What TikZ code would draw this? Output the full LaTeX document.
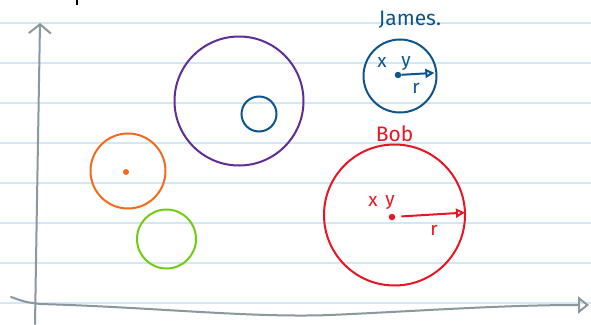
\documentclass[tikz,border=0pt]{standalone}
\usepackage{fontspec}
\setmainfont{Fira Sans}
\usetikzlibrary{positioning,arrows.meta}

\definecolor{linie}{RGB}{210,232,246}
\definecolor{achse}{RGB}{139,152,158}
\definecolor{lila}{RGB}{95,45,148}
\definecolor{blau}{RGB}{14,86,138}
\definecolor{kreisorange}{RGB}{242,107,29}
\definecolor{gruen}{RGB}{114,204,18}
\definecolor{rot}{RGB}{230,22,36}

\begin{document}
\begin{tikzpicture}[
  x = 1pt, y = -1pt,
  kreis/.style = {circle, draw, line width = 2pt, inner sep = 0pt},
  punkt/.style = {circle, fill, inner sep = 0pt, minimum size = 6.5pt},
  schrift/.style = {font = \fontsize{19}{21}\selectfont, inner sep = 0pt, anchor = base},
  titel/.style = {font = \fontsize{21}{23}\selectfont},
  pfeil/.style = {line width = 2pt, -{Triangle[open, length = 9pt, width = 9pt]}}
]
  \useasboundingbox (0,0) rectangle (591,324);
  \fill[white] (0,0) rectangle (591,324);

  % Linien
  \foreach \y in {23,63,...,303}
    \draw[linie, line width = 1.3pt] (0,\y) -- (591,\y);
  \draw[black, line width = 2.5pt] (77,0) -- (77,5);

  % Achsen
  \draw[achse, line width = 2pt, line cap = round,
        -{Straight Barb[length = 9pt, width = 22pt]}]
    (35,324) .. controls (37,200) .. (40,23);
  \draw[achse, line width = 2pt, line cap = round,
        -{Triangle[open, length = 11pt, width = 17pt]}]
    (11,297) .. controls (25,302) .. (40,304)
    .. controls (150,307) and (250,318) .. (330,315)
    .. controls (420,311) and (500,305) .. (589,305);

  % Kreise
  \node[kreis, draw = lila, minimum size = 129pt] (gross) at (239,101) {};
  \node[kreis, draw = blau, minimum size = 35pt]  (klein) at (259,114) {};
  \node[kreis, draw = kreisorange, minimum size = 75pt] (orange) at (128,171) {};
  \node[kreis, draw = gruen, minimum size = 59pt] (gruen) at (166.5,239) {};
  \node[kreis, draw = blau, minimum size = 73pt]  (james) at (400,76) {};
  \node[kreis, draw = rot, minimum size = 141pt]  (bob) at (394.5,215) {};

  % Mittelpunkte
  \node[punkt, kreisorange, minimum size = 6pt] (orangemitte) at (126,172) {};
  \node[punkt, blau] (jamesmitte) at (398,75) {};
  \node[punkt, rot]  (bobmitte) at (392,217) {};

  % Radien
  \draw[pfeil, blau, shorten > = 3pt] (jamesmitte) -- (james.5);
  \draw[pfeil, rot, shorten < = 6pt, shorten > = 1pt] (bobmitte) -- (bob.2);

  % Beschriftung
  \node[titel, text = blau] (jamesname) at (410,20) {James.};
  \node[titel, text = rot] (bobname) [above = -2pt of bob] {Bob};
  \node[schrift, text = blau] (jamesx) at (382,67) {x};
  \node[schrift, text = blau] (jamesy) at (406,66) {y};
  \node[schrift, text = blau] (jamesr) at (416,93) {r};
  \node[schrift, text = rot] (bobx) at (373,206) {x};
  \node[schrift, text = rot] (boby) at (390,205) {y};
  \node[schrift, text = rot] (bobr) at (434,235) {r};
\end{tikzpicture}
\end{document}
